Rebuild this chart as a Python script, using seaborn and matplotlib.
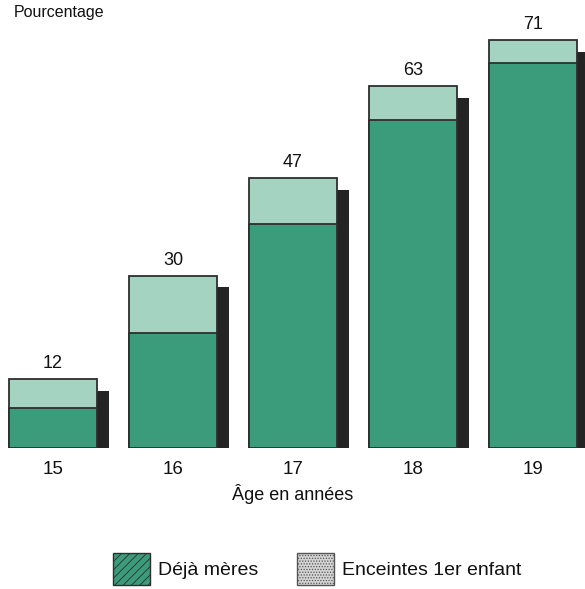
import seaborn as sns
import matplotlib.pyplot as plt
import matplotlib.patheffects as pe
from matplotlib.patches import Patch
import pandas as pd

ages = ["15", "16", "17", "18", "19"]
total = [12, 30, 47, 63, 71]
meres = [7, 20, 39, 57, 67]

GREEN = "#3b9c7c"
LIGHT = "#a5d3c1"
EDGE = "#2e2e2e"
SHADOW = "#242424"

sns.set_theme(style="white")
plt.rcParams['font.family'] = ['Liberation Sans', 'DejaVu Sans']

df = pd.DataFrame({"age": ages, "total": total, "meres": meres})

fig = plt.figure(figsize=(5.85, 5.89), dpi=100)
ax = fig.add_axes([0, (589 - 448) / 589, 1, (448 - 5) / 589])

sns.barplot(data=df, x="age", y="total", color=LIGHT, width=0.733,
            edgecolor=EDGE, linewidth=1.3, saturation=1, ax=ax)
for p in ax.patches:
    p.set_path_effects([pe.SimplePatchShadow(offset=(8.6, -8.6), shadow_rgbFace=SHADOW, alpha=1.0),
                        pe.Normal()])
cont_total = ax.containers[0]
sns.barplot(data=df, x="age", y="meres", color=GREEN, width=0.733,
            edgecolor=EDGE, linewidth=1.3, saturation=1, ax=ax)

ax.bar_label(cont_total, labels=[str(v) for v in total], padding=5, fontsize=13, color="#111111")

ax.set_xlim(-53 / 120, 532 / 120)
ax.set_ylim(0, 443 / 5.75)
for s in ax.spines.values():
    s.set_visible(False)
ax.set_yticks([])
ax.tick_params(axis="x", length=0, pad=9, labelsize=13.5, labelcolor="#111111")
ax.set_xlabel("Âge en années", fontsize=13, color="#111111", labelpad=5)
ax.set_ylabel("")

fig.text(14 / 585, 1 - 12 / 589, "Pourcentage", fontsize=11.5, va="center", ha="left", color="#111111")

plt.rcParams['hatch.color'] = '#57a98d'
plt.rcParams['hatch.linewidth'] = 0.6
handles = [Patch(facecolor=GREEN, edgecolor=EDGE, linewidth=1.0, hatch="////"),
           Patch(facecolor="#d4d4d4", edgecolor="#555555", linewidth=1.0, hatch="......")]
leg = fig.legend(handles, ["Déjà mères", "Enceintes 1er enfant"], loc="center",
                 bbox_to_anchor=(317 / 585, 1 - 569 / 589), ncol=2, frameon=False,
                 fontsize=14, handlelength=1.9, handleheight=2.2, columnspacing=2.0,
                 handletextpad=0.4)
for t in leg.get_texts():
    t.set_color("#111111")

fig.savefig("out.png", dpi=100)
